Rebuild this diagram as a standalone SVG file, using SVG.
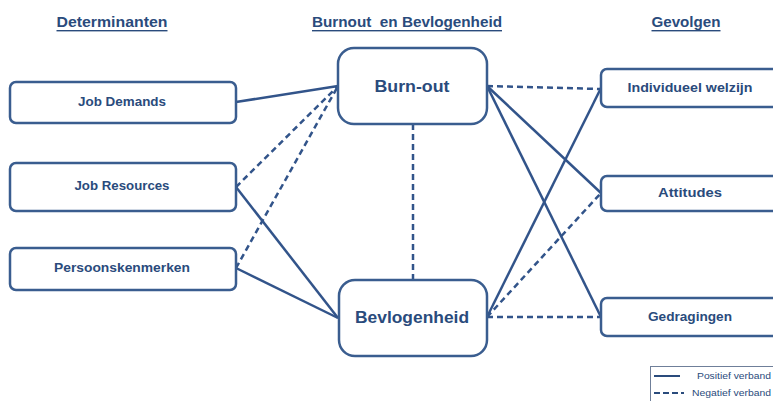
<svg xmlns="http://www.w3.org/2000/svg" width="773" height="401" viewBox="0 0 773 401">
<style>
.box{fill:#fff;stroke:#3A5D8F;stroke-width:2.5}
.t{font-family:"Liberation Sans",Arial,sans-serif;font-weight:bold;fill:#2A4B7C;text-anchor:middle;dominant-baseline:central}
.h{font-size:14px;text-decoration:underline}
.s{font-size:12.5px}
.b{font-size:16.5px}
.l{font-family:"Liberation Sans",Arial,sans-serif;font-size:9px;fill:#2A4B7C;dominant-baseline:central}
.c{stroke:#32548A;stroke-width:2.5;fill:none}
.d{stroke-dasharray:6 4}
</style>
<rect width="773" height="401" fill="#fff"/>
<g id="headers">
<text class="t h" x="112" y="22" textLength="111" lengthAdjust="spacingAndGlyphs">Determinanten</text>
<text class="t h" x="407" y="22" textLength="190" lengthAdjust="spacingAndGlyphs" xml:space="preserve">Burnout  en Bevlogenheid</text>
<text class="t h" x="686" y="22" textLength="69" lengthAdjust="spacingAndGlyphs">Gevolgen</text>
</g>
<g id="connectors">
<line class="c" x1="236" y1="102" x2="338" y2="86"/>
<line class="c d" x1="236" y1="187" x2="338" y2="86"/>
<line class="c d" x1="236" y1="268" x2="338" y2="86"/>
<line class="c" x1="236" y1="187" x2="338" y2="318"/>
<line class="c" x1="236" y1="268" x2="338" y2="318"/>
<line class="c d" x1="413" y1="124" x2="413" y2="279"/>
<line class="c d" x1="487" y1="86" x2="601" y2="89"/>
<line class="c" x1="487" y1="86" x2="601" y2="193"/>
<line class="c" x1="487" y1="86" x2="601" y2="317"/>
<line class="c" x1="487" y1="317" x2="601" y2="88"/>
<line class="c d" x1="487" y1="317" x2="601" y2="193"/>
<line class="c d" x1="487" y1="317" x2="601" y2="317"/>
</g>
<g id="job-demands">
<rect class="box" x="10" y="82" width="226" height="41" rx="6"/>
<text class="t s" x="122" y="102" textLength="88" lengthAdjust="spacingAndGlyphs">Job Demands</text>
</g>
<g id="job-resources">
<rect class="box" x="10" y="163" width="226" height="48" rx="6"/>
<text class="t s" x="122" y="186" textLength="95" lengthAdjust="spacingAndGlyphs">Job Resources</text>
</g>
<g id="persoonskenmerken">
<rect class="box" x="10" y="248" width="226" height="42" rx="6"/>
<text class="t s" x="122" y="268" textLength="136" lengthAdjust="spacingAndGlyphs">Persoonskenmerken</text>
</g>
<g id="burn-out">
<rect class="box" x="338" y="48" width="149" height="76" rx="16"/>
<text class="t b" x="412" y="86" textLength="75" lengthAdjust="spacingAndGlyphs">Burn-out</text>
</g>
<g id="bevlogenheid">
<rect class="box" x="339" y="280" width="148" height="76" rx="16"/>
<text class="t b" x="412" y="317" textLength="114" lengthAdjust="spacingAndGlyphs">Bevlogenheid</text>
</g>
<g id="individueel-welzijn">
<rect class="box" x="601" y="69" width="190" height="38" rx="6"/>
<text class="t s" x="690" y="88" textLength="125" lengthAdjust="spacingAndGlyphs">Individueel welzijn</text>
</g>
<g id="attitudes">
<rect class="box" x="601" y="176" width="190" height="35" rx="6"/>
<text class="t s" x="690" y="193" textLength="64" lengthAdjust="spacingAndGlyphs">Attitudes</text>
</g>
<g id="gedragingen">
<rect class="box" x="601" y="298" width="190" height="38" rx="6"/>
<text class="t s" x="690" y="317" textLength="84" lengthAdjust="spacingAndGlyphs">Gedragingen</text>
</g>
<g id="legend">
<rect x="650.5" y="366.5" width="140" height="50" fill="#fff" stroke="#6F7F99" stroke-width="1"/>
<line x1="654" y1="376" x2="680" y2="376" stroke="#2A4B7C" stroke-width="2"/>
<text class="l" x="697" y="376" textLength="74" lengthAdjust="spacingAndGlyphs">Positief verband</text>
<line x1="654" y1="393" x2="684" y2="393" stroke="#2A4B7C" stroke-width="2" stroke-dasharray="6 3"/>
<text class="l" x="692" y="393" textLength="79" lengthAdjust="spacingAndGlyphs">Negatief verband</text>
</g>
</svg>
